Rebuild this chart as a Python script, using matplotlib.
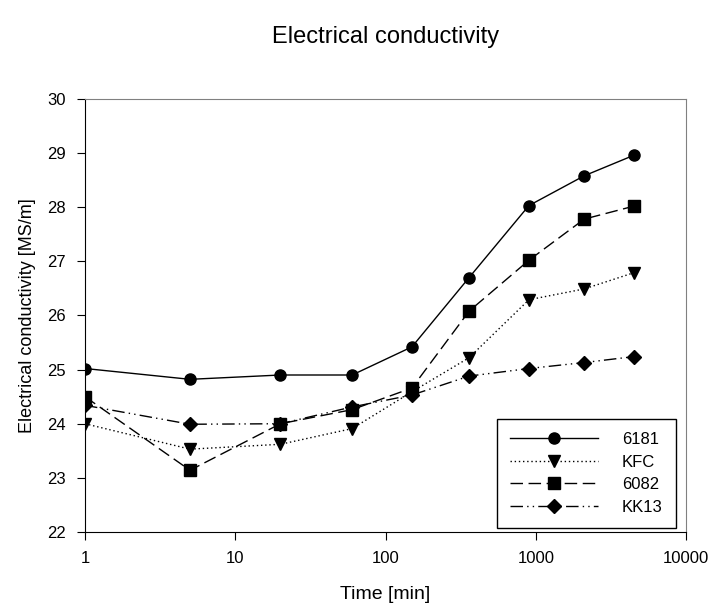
import matplotlib.pyplot as plt

plt.rcParams['font.family'] = ['Liberation Sans', 'DejaVu Sans']

# Ageing time and conductivity for each alloy
time_min = [1, 5, 20, 60, 150, 360, 900, 2100, 4500]
alloy_6181 = [25.02, 24.82, 24.90, 24.90, 25.42, 26.70, 28.03, 28.58, 28.96]
alloy_kfc = [24.00, 23.53, 23.62, 23.91, 24.59, 25.22, 26.29, 26.49, 26.79]
alloy_6082 = [24.50, 23.14, 24.00, 24.26, 24.66, 26.08, 27.02, 27.78, 28.02]
alloy_kk13 = [24.34, 23.99, 24.00, 24.31, 24.53, 24.88, 25.02, 25.13, 25.24]
labels = ['6181', 'KFC', '6082', 'KK13']

fig = plt.figure(figsize=(7.08, 6.07), dpi=100)
ax = fig.add_axes([0.120, 0.1236, 0.849, 0.7134])

ax.plot(time_min, alloy_6181, color='black', lw=1, linestyle='-', marker='o', ms=8, label=labels[0])
ax.plot(time_min, alloy_kfc, color='black', lw=1, linestyle=(0, (1, 2)), marker='v', ms=8, label=labels[1])
ax.plot(time_min, alloy_6082, color='black', lw=1, linestyle=(0, (9, 4)), marker='s', ms=8, label=labels[2])
ax.plot(time_min, alloy_kk13, color='black', lw=1, linestyle=(0, (9, 3, 1, 3, 1, 3)), marker='D', ms=7, label=labels[3])

ax.set_xscale('log')
ax.set_xlim(1, 10000)
ax.set_ylim(22, 30)
ax.set_xticks([1, 10, 100, 1000, 10000])
ax.set_xticklabels(['1', '10', '100', '1000', '10000'])
ax.minorticks_off()
ax.set_yticks(range(22, 31))
ax.tick_params(direction='out', length=6, labelsize=12, pad=8)

for side in ['top', 'right']:
    ax.spines[side].set_color('#808080')
for side in ['left', 'bottom']:
    ax.spines[side].set_color('black')

ax.set_xlabel('Time [min]', fontsize=14, labelpad=14)
ax.set_ylabel('Electrical conductivity [MS/m]', fontsize=13, labelpad=8)
fig.text(0.545, 0.929, 'Electrical conductivity', ha='center', va='baseline', fontsize=17)

leg = ax.legend(loc='lower right', bbox_to_anchor=(0.983, 0.009), handlelength=5.3,
                handletextpad=1.4, fontsize=12, fancybox=False, edgecolor='black',
                framealpha=1, borderpad=0.8, labelspacing=0.45, borderaxespad=0)
leg.get_frame().set_linewidth(1)

fig.savefig('out.png', dpi=100)
